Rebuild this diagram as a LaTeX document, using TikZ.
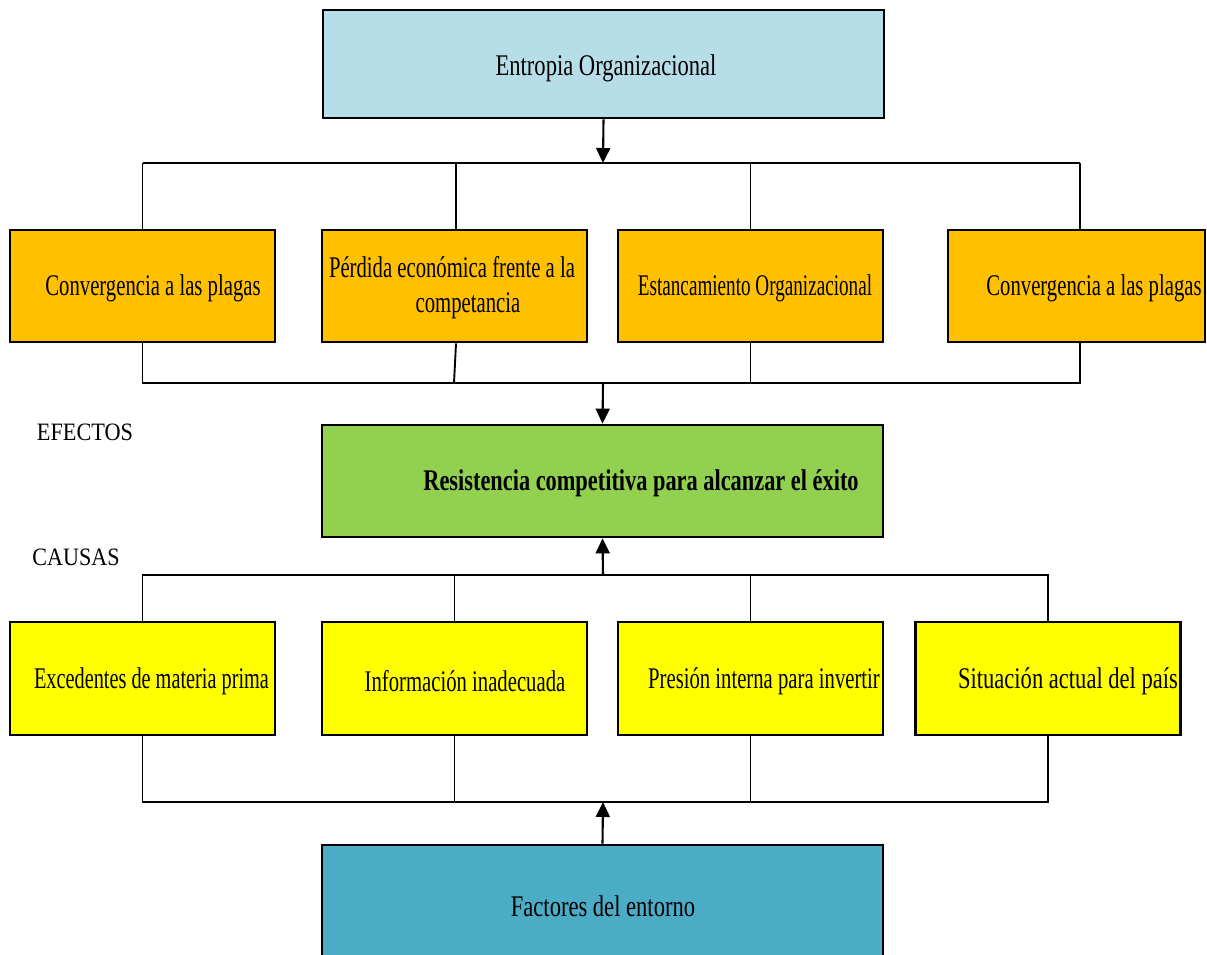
\documentclass[tikz,border=0pt]{standalone}
\usepackage{graphicx}
\usepackage{fontspec}
\setmainfont{Liberation Serif}[FakeStretch=0.69]
\usetikzlibrary{arrows.meta}

\definecolor{topblue}{HTML}{B7DDE8}
\definecolor{effectorange}{HTML}{FFC000}
\definecolor{coregreen}{HTML}{92D050}
\definecolor{causeyellow}{HTML}{FFFF00}
\definecolor{basecyan}{HTML}{4BACC6}

% horizontal-only scaling of a text run
\newcommand{\widen}[2]{\scalebox{#1}[1]{#2}}

\tikzset{
  box/.style={draw=black, line width=2.8pt, rectangle, inner sep=0pt},
  wide/.style={box, minimum width=561pt, minimum height=110pt},
  cell/.style={box, minimum width=265pt, minimum height=112pt},
  txt/.style={inner sep=0pt, font=\fontsize{30}{35}\selectfont, align=center},
  sidelabel/.style={inner sep=0pt, font=\fontsize{25}{28}\selectfont},
  wire/.style={line width=1.9pt, draw=black},
  flow/.style={wire, line width=2.1pt, -{Triangle[width=14pt,length=15pt]}}
}

\begin{document}
\begin{tikzpicture}[x=1pt, y=-1pt]
\useasboundingbox (0,0) rectangle (1207,954);

% ---- boxes ----
\node[wide, fill=topblue, minimum height=108pt] (top) at (603.5,64) {};
\node[cell, fill=effectorange] (o1) at (142.5,286) {};
\node[cell, fill=effectorange] (o2) at (454.5,286) {};
\node[cell, fill=effectorange] (o3) at (750.5,286) {};
\node[cell, fill=effectorange, minimum width=257pt] (o4) at (1076.5,286) {};
\node[wide, fill=coregreen, minimum height=112pt] (core) at (602.5,481) {};
\node[cell, fill=causeyellow, minimum height=113pt] (y1) at (142.5,678.5) {};
\node[cell, fill=causeyellow, minimum height=113pt] (y2) at (454.5,678.5) {};
\node[cell, fill=causeyellow, minimum height=113pt] (y3) at (750.5,678.5) {};
\node[cell, fill=causeyellow, minimum height=113pt] (y4) at (1048,678.5) {};
\node[wide, fill=basecyan, minimum height=124pt] (base) at (602.5,907) {};

% ---- texts ----
\node[txt] (ttop) at (606,68) {\widen{1.09}{Entropia Organizacional}};
\node[txt] (to1) at (153,288) {Convergencia a las plagas};
\node[txt] (to2) at (452,288) {Pérdida económica frente a la\\\hspace*{32pt}competancia};
\node[txt] (to3) at (755,288) {\widen{0.925}{Estancamiento Organizacional}};
\node[txt] (to4) at (1094,288) {Convergencia a las plagas};
\node[txt, font=\fontsize{30}{35}\selectfont\bfseries] (tcore) at (641,483) {\widen{1.08}{Resistencia competitiva para alcanzar el éxito}};
\node[txt] (ty1) at (151.5,681) {\widen{0.98}{Excedentes de materia prima}};
\node[txt] (ty2) at (465,681) {Información inadecuada};
\node[txt] (ty3) at (764,681) {Presión interna para invertir};
\node[txt] (ty4) at (1068,681) {\widen{1.09}{Situación actual del país}};
\node[txt] (tbase) at (603,906) {\widen{1.09}{Factores del entorno}};
\node[sidelabel] (efectos) at (85,432) {\widen{1.29}{EFECTOS}};
\node[sidelabel] (causas) at (76,557) {\widen{1.28}{CAUSAS}};

% ---- bus lines ----
\coordinate (bus1) at (603,163);
\coordinate (bus2) at (603,383);
\coordinate (bus3) at (603,575);
\coordinate (bus4) at (603,802);
\coordinate (o2foot) at (454,383);

% top box fans out to the effects
\draw[flow] (top.south) -- (bus1);
\draw[wire] (o1.north |- bus1) -- ([xshift=3.5pt]o4.north |- bus1);
\draw[wire] (o1.north) -- (o1.north |- bus1);
\draw[wire] ([xshift=1.5pt]o2.north) -- ([xshift=1.5pt]o2.north |- bus1);
\draw[wire] (o3.north) -- (o3.north |- bus1);
\draw[wire] ([xshift=3.5pt]o4.north) -- ([xshift=3.5pt]o4.north |- bus1);

% effects gather into the core problem
\draw[wire] (o1.south) -- (o1.south |- bus2) -- ([xshift=3.5pt]o4.south |- bus2) -- ([xshift=3.5pt]o4.south);
\draw[wire] ([xshift=1.5pt]o2.south) -- (o2foot);
\draw[wire] (o3.south) -- (o3.south |- bus2);
\draw[flow] (bus2) -- (core.north);

% causes feed the core problem
\draw[flow] (bus3) -- (core.south);
\draw[wire] (y1.north) -- (y1.north |- bus3) -- (y4.north |- bus3) -- (y4.north);
\draw[wire] (y2.north) -- (y2.north |- bus3);
\draw[wire] (y3.north) -- (y3.north |- bus3);

% environment factors drive the causes
\draw[wire] (y1.south) -- (y1.south |- bus4) -- (y4.south |- bus4) -- (y4.south);
\draw[wire] (y2.south) -- (y2.south |- bus4);
\draw[wire] (y3.south) -- (y3.south |- bus4);
\draw[flow] (base.north) -- (bus4);
\end{tikzpicture}
\end{document}
